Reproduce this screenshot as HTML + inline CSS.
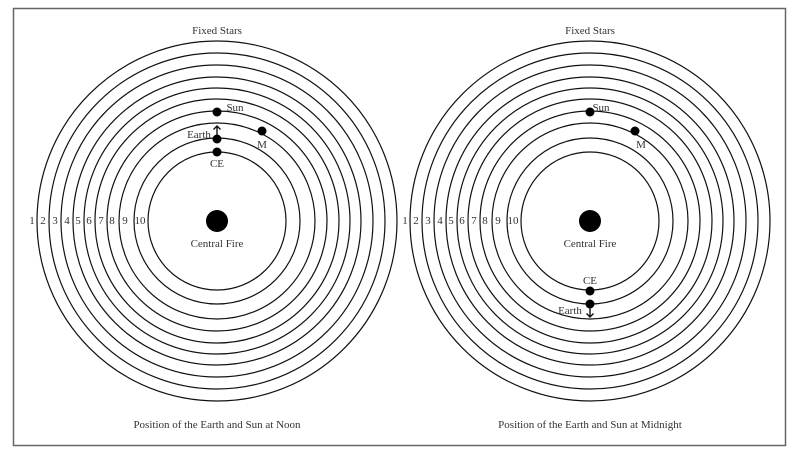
<!DOCTYPE html>
<html><head><meta charset="utf-8"><style>
html,body{margin:0;padding:0;background:#fff;}
svg text{font-family:"Liberation Serif",serif;fill:#333;}
</style></head><body>
<svg width="800" height="460" xmlns="http://www.w3.org/2000/svg">
<rect x="13.5" y="8.5" width="772" height="437" fill="#fff" stroke="#666" stroke-width="1.5"/>
<g fill="none" stroke="#111" stroke-width="1.2">
<circle cx="217" cy="221" r="180"/><circle cx="217" cy="221" r="168"/><circle cx="217" cy="221" r="156"/><circle cx="217" cy="221" r="144"/><circle cx="217" cy="221" r="133"/><circle cx="217" cy="221" r="122"/><circle cx="217" cy="221" r="110"/><circle cx="217" cy="221" r="98"/><circle cx="217" cy="221" r="83"/><circle cx="217" cy="221" r="69"/>
<circle cx="590" cy="221" r="180"/><circle cx="590" cy="221" r="168"/><circle cx="590" cy="221" r="156"/><circle cx="590" cy="221" r="144"/><circle cx="590" cy="221" r="133"/><circle cx="590" cy="221" r="122"/><circle cx="590" cy="221" r="110"/><circle cx="590" cy="221" r="98"/><circle cx="590" cy="221" r="83"/><circle cx="590" cy="221" r="69"/>
</g>
<g fill="#000">
<circle cx="217" cy="221" r="11"/><circle cx="590" cy="221" r="11"/>
<circle cx="217" cy="112" r="4.5"/><circle cx="217" cy="139" r="4.5"/><circle cx="217" cy="152" r="4.5"/><circle cx="262" cy="131" r="4.5"/>
<circle cx="590" cy="112" r="4.5"/><circle cx="635" cy="131" r="4.5"/><circle cx="590" cy="291" r="4.5"/><circle cx="590" cy="304" r="4.5"/>
</g>
<g stroke="#111" stroke-width="1.4" fill="none">
<path d="M217 135 V126 M213.5 129.5 L217 126 L220.5 129.5"/>
<path d="M590 308 V317 M586.5 313.5 L590 317 L593.5 313.5"/>
</g>
<g font-size="11" text-anchor="middle">
<text x="217" y="34">Fixed Stars</text><text x="590" y="34">Fixed Stars</text>
<text x="217" y="247">Central Fire</text><text x="590" y="247">Central Fire</text>
<text x="217" y="428">Position of the Earth and Sun at Noon</text>
<text x="590" y="428">Position of the Earth and Sun at Midnight</text>
<text x="235" y="111">Sun</text><text x="601" y="111">Sun</text>
<text x="262" y="148">M</text><text x="641" y="148">M</text>
<text x="199" y="138">Earth</text><text x="217" y="167">CE</text>
<text x="590" y="284">CE</text><text x="570" y="314">Earth</text>
</g>
<g font-size="11" text-anchor="middle">
<text x="32" y="224">1</text><text x="43" y="224">2</text><text x="55" y="224">3</text><text x="67" y="224">4</text><text x="78" y="224">5</text><text x="89" y="224">6</text><text x="101" y="224">7</text><text x="112" y="224">8</text><text x="125" y="224">9</text><text x="140" y="224">10</text>
<text x="405" y="224">1</text><text x="416" y="224">2</text><text x="428" y="224">3</text><text x="440" y="224">4</text><text x="451" y="224">5</text><text x="462" y="224">6</text><text x="474" y="224">7</text><text x="485" y="224">8</text><text x="498" y="224">9</text><text x="513" y="224">10</text>
</g>
</svg>
</body></html>
